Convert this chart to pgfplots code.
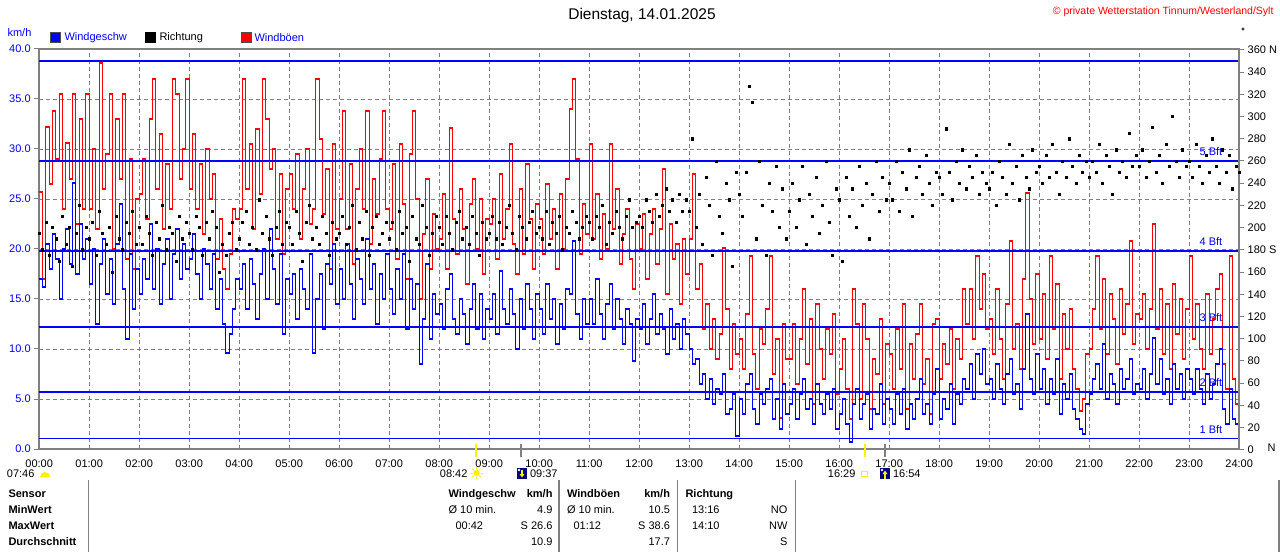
\documentclass[border=0pt]{standalone}
\usepackage{fontspec}
\setmainfont{Liberation Sans}
\usepackage{pgfplots}
\usepackage{pgfplotstable}
\pgfplotsset{compat=1.18}
\definecolor{frame}{HTML}{808080}
\definecolor{navy}{HTML}{000080}
\newcommand{\fs}{\fontsize{11}{13}\selectfont}
\newcommand{\fb}{\fontsize{11}{13}\selectfont\bfseries}

% t = minutes since 00:00, s = Windgeschw (km/h), g = Windboeen (km/h), d = Richtung (deg)
\pgfplotstableread{
t s g d
0 17.0 25.7 195
4 16.2 17.0 180
8 20.5 32.2 205
12 18.0 26.5 175
16 21.5 33.8 200
20 19.0 29.0 190
24 15.0 35.5 170
28 20.0 24.0 210
32 22.0 30.6 185
36 18.5 27.0 200
40 26.6 35.5 165
44 17.5 22.5 195
48 22.5 33.0 220
52 19.0 24.0 180
56 21.0 35.5 200
60 16.5 24.0 190
64 20.0 30.0 205
68 12.5 22.0 175
72 18.5 38.6 215
76 21.0 26.0 195
80 15.5 29.5 185
84 19.0 35.5 200
88 14.5 20.0 160
92 20.5 33.0 210
96 24.5 27.0 190
100 16.0 35.5 180
104 11.0 19.0 205
108 19.5 29.0 195
112 14.0 18.0 215
116 18.0 25.0 185
120 15.5 25.5 200
124 19.0 29.0 185
128 17.0 23.0 210
132 22.5 33.0 195
136 16.0 37.0 175
140 20.0 26.0 205
144 14.5 31.5 190
148 18.5 22.0 220
152 21.0 28.5 180
156 15.0 24.0 200
160 19.5 37.0 195
164 22.0 35.5 170
168 17.0 27.0 210
172 20.5 30.0 190
176 18.0 37.0 205
180 19.0 26.0 195
184 21.5 31.5 180
188 17.5 24.0 210
192 15.0 28.5 200
196 20.0 21.5 175
200 18.5 30.0 205
204 16.0 25.0 190
208 19.5 27.5 215
212 14.0 19.0 200
216 17.0 23.0 160
220 12.5 18.0 185
224 9.6 16.0 175
228 11.5 19.5 195
232 14.0 24.0 205
236 17.0 23.0 180
240 16.0 24.0 190
244 18.5 37.0 205
248 14.0 26.0 215
252 19.0 30.5 185
256 16.5 22.0 200
260 13.0 32.0 180
264 17.5 25.5 225
268 20.0 37.0 195
272 15.0 33.0 210
276 22.0 28.0 190
280 18.0 30.0 175
284 14.5 21.0 200
288 19.5 27.5 215
292 11.5 19.5 185
296 17.0 26.0 205
300 15.5 27.5 200
304 17.5 24.0 185
308 13.0 29.5 215
312 18.0 21.0 195
316 16.0 26.0 170
320 14.0 30.0 205
324 19.5 22.5 220
328 9.6 24.0 190
332 15.0 37.0 200
336 17.5 31.0 185
340 12.0 23.5 210
344 18.5 28.0 195
348 16.5 18.0 175
352 20.5 30.5 205
356 14.5 22.0 190
360 18.0 25.0 195
364 15.0 33.8 210
368 20.5 22.0 185
372 16.5 28.5 200
376 13.0 18.5 220
380 19.0 26.0 180
384 17.0 30.0 205
388 14.5 24.0 190
392 21.0 33.8 215
396 16.0 20.5 175
400 18.5 27.0 200
404 12.5 23.5 210
408 17.5 29.0 185
412 15.0 33.8 195
416 19.5 24.0 205
420 16.0 22.0 190
424 13.5 28.5 205
428 18.0 19.0 180
432 15.0 30.5 215
436 19.5 24.5 195
440 12.0 17.0 200
444 17.0 29.5 170
448 14.0 33.8 210
452 16.5 25.0 190
456 8.5 15.0 185
460 13.0 21.5 220
464 18.5 27.0 200
468 11.0 18.0 175
472 15.5 23.5 195
476 13.5 20.0 210
480 14.5 21.0 200
484 12.0 25.5 185
488 16.0 18.0 210
492 17.5 32.1 195
496 13.0 23.0 180
500 11.5 19.5 205
504 15.0 26.0 215
508 13.5 22.0 190
512 10.5 16.5 200
516 14.0 24.5 185
520 16.5 27.0 210
524 12.0 20.0 195
528 15.5 25.0 175
532 11.0 17.5 205
536 14.0 23.0 190
540 13.0 22.5 195
544 15.5 25.0 210
548 11.5 19.0 190
552 17.8 27.5 205
556 14.0 21.0 185
560 12.5 24.0 200
564 16.0 30.5 220
568 13.5 20.5 195
572 10.0 17.5 180
576 15.0 26.0 210
580 12.0 19.5 200
584 16.5 28.5 190
588 14.0 23.0 205
592 11.0 18.0 215
596 15.5 24.5 195
600 14.0 23.0 200
604 11.5 19.5 190
608 16.5 26.5 215
612 13.0 21.0 185
616 15.0 24.0 205
620 10.5 18.0 195
624 14.5 25.5 210
628 12.0 20.0 180
632 16.0 27.0 200
636 15.5 34.0 195
640 20.8 37.0 215
644 13.5 29.0 205
648 11.0 19.5 190
652 15.0 24.5 200
656 12.5 21.5 210
660 15.0 30.5 205
664 12.5 21.0 190
668 17.0 25.5 210
672 13.5 19.0 200
676 11.0 23.5 220
680 14.5 20.0 185
684 16.5 30.5 205
688 12.0 22.0 195
692 15.0 26.0 215
696 13.0 18.5 200
700 10.5 21.5 190
704 14.0 24.0 210
708 12.5 19.0 225
712 8.8 16.0 200
716 13.0 22.5 205
720 12.0 20.0 210
724 14.5 23.5 200
728 10.5 17.0 225
732 13.0 21.5 215
736 15.5 24.0 205
740 11.5 18.5 230
744 13.5 22.0 210
748 12.0 28.0 220
752 9.5 15.5 235
756 14.0 22.5 215
760 11.0 19.0 225
764 12.5 20.5 205
768 10.0 14.5 230
772 13.0 21.0 215
776 11.5 17.5 225
780 10.0 21.0 215
784 8.5 27.5 280
788 9.0 16.0 200
792 6.5 18.5 230
796 7.5 12.0 185
800 5.0 14.5 245
804 7.0 10.0 220
808 4.5 13.0 175
812 6.0 9.0 260
816 5.5 11.5 210
820 7.5 20.1 195
824 3.5 14.0 240
828 4.0 8.0 225
832 5.5 12.5 165
836 1.3 9.5 250
840 5.0 11.0 230
844 3.5 8.0 210
848 6.5 13.5 250
852 7.5 19.3 327
856 4.0 9.5 313
860 2.5 6.0 190
864 5.5 12.0 260
868 4.5 10.5 220
872 6.0 14.0 175
876 7.0 19.3 240
880 3.0 7.5 215
884 5.0 11.0 255
888 2.0 3.1 200
892 6.5 12.5 235
896 3.5 9.0 190
900 4.5 9.0 215
904 6.0 12.5 240
908 3.0 6.5 200
912 5.5 11.0 225
916 7.0 16.0 255
920 4.0 8.5 185
924 5.0 13.0 230
928 2.5 4.5 210
932 6.5 14.5 245
936 4.5 10.0 195
940 3.5 7.0 220
944 5.5 12.0 260
948 4.0 9.5 205
952 6.0 13.5 175
956 2.0 5.5 235
960 3.5 8.0 225
964 5.0 11.0 170
968 2.5 6.0 245
972 0.7 3.0 210
976 4.5 16.0 235
980 6.0 12.5 200
984 3.0 5.0 255
988 4.5 14.5 220
992 5.5 11.0 240
996 2.0 4.0 190
1000 4.0 9.0 230
1004 3.5 7.5 260
1008 6.5 13.0 215
1012 2.5 4.5 245
1016 5.0 10.5 225
1020 4.0 9.5 240
1024 2.5 6.0 225
1028 5.5 12.0 260
1032 3.5 8.0 215
1036 6.0 14.5 250
1040 2.0 4.0 235
1044 4.5 10.5 270
1048 3.0 7.0 210
1052 5.0 11.5 245
1056 7.0 14.5 255
1060 3.5 6.5 230
1064 4.5 9.0 265
1068 2.5 3.5 240
1072 5.5 12.5 220
1076 8.0 13.0 250
1080 3.0 7.0 245
1084 5.0 10.5 230
1088 4.0 8.5 289
1092 6.5 12.0 250
1096 2.5 6.0 225
1100 5.5 11.0 260
1104 4.5 9.0 240
1108 7.0 16.0 270
1112 6.0 12.5 235
1116 8.5 16.0 255
1120 5.0 11.0 245
1124 9.5 19.3 265
1128 7.5 14.0 230
1132 10.0 17.5 250
1136 6.5 12.0 240
1140 7.0 13.0 235
1144 5.0 9.5 250
1148 8.5 16.0 220
1152 6.0 11.0 260
1156 4.5 7.0 245
1160 7.5 14.5 230
1164 9.0 20.8 275
1168 5.5 10.0 240
1172 6.5 12.5 255
1176 4.0 8.0 225
1180 8.0 17.0 265
1184 13.5 25.6 245
1188 7.0 15.0 235
1192 5.5 10.5 270
1196 9.5 17.5 250
1200 6.0 11.0 255
1204 8.0 15.5 240
1208 4.5 9.0 265
1212 7.0 19.3 245
1216 5.5 12.0 275
1220 9.0 16.5 250
1224 3.5 7.0 230
1228 6.5 13.5 260
1232 5.0 10.0 245
1236 7.5 14.0 280
1240 4.0 8.0 255
1244 3.0 6.0 240
1248 2.0 3.8 265
1252 1.5 5.0 250
1256 4.5 9.5 260
1260 5.5 10.0 245
1264 7.0 14.0 260
1268 8.5 19.3 250
1272 6.0 12.0 275
1276 10.5 17.0 240
1280 5.0 9.5 265
1284 7.5 15.5 255
1288 6.5 13.0 230
1292 4.5 8.5 270
1296 8.0 16.0 250
1300 6.0 11.5 260
1304 7.0 14.5 245
1308 9.0 20.8 285
1312 5.5 10.5 255
1316 6.5 13.5 265
1320 6.0 13.0 255
1324 8.0 15.5 270
1328 5.0 10.0 245
1332 7.5 14.0 260
1336 11.1 22.5 290
1340 6.5 12.0 250
1344 9.0 16.0 265
1348 5.5 9.5 240
1352 7.0 14.5 275
1356 4.5 8.0 255
1360 8.5 16.5 300
1364 6.0 11.5 260
1368 7.5 15.0 245
1372 5.0 9.0 270
1376 8.0 14.0 255
1380 7.0 19.3 260
1384 5.5 11.0 245
1388 8.0 14.5 275
1392 6.0 10.0 255
1396 4.5 8.0 240
1400 7.5 15.5 265
1404 5.0 9.5 250
1408 6.5 13.0 280
1412 8.5 16.0 255
1416 10.0 17.5 240
1420 4.0 8.5 270
1424 2.5 6.0 250
1428 6.0 19.3 265
1432 3.0 7.0 235
1436 2.5 4.5 255
1440 5.0 11.0 250
}\wind

\begin{document}
\begin{tikzpicture}[x=1pt,y=1pt]
\useasboundingbox (0,0) rectangle (1280,552);

% ---------- main axis (km/h) ----------
\begin{axis}[
  at={(47,103)}, anchor=origin,
  scale only axis, width=1200pt, height=400pt,
  xmin=0, xmax=1440, ymin=0, ymax=40,
  xtick={0,60,...,1440},
  xticklabels={00:00,01:00,02:00,03:00,04:00,05:00,06:00,07:00,08:00,09:00,10:00,11:00,12:00,13:00,14:00,15:00,16:00,17:00,18:00,19:00,20:00,21:00,22:00,23:00,24:00},
  ytick={0,5,...,40},
  grid=major,
  major grid style={draw=frame, line width=0.8pt, dash pattern=on 4pt off 3pt},
  axis line style={draw=frame, line width=2.5pt},
  ytick pos=left, xtick pos=bottom,
  tick align=outside, major tick length=5pt,
  tick style={draw=frame, line width=1pt},
  xtick style={draw=none},
  yticklabel style={text=blue, font=\fs,
    /pgf/number format/fixed, /pgf/number format/fixed zerofill,
    /pgf/number format/precision=1},
  xticklabel style={font=\fs, yshift=-2pt},
  /pgf/number format/assume math mode=true,
]
% Beaufort labels (behind the data)
\node[anchor=east, text=blue, font=\fs] at (axis cs:1424,1.08) [yshift=9pt] {1 Bft};
\node[anchor=east, text=blue, font=\fs] at (axis cs:1424,5.70) [yshift=9pt] {2 Bft};
\node[anchor=east, text=blue, font=\fs] at (axis cs:1424,12.24) [yshift=9pt] {3 Bft};
\node[anchor=east, text=blue, font=\fs] at (axis cs:1424,19.8) [yshift=9pt] {4 Bft};
\node[anchor=east, text=blue, font=\fs] at (axis cs:1424,28.8) [yshift=9pt] {5 Bft};

\addplot[red, const plot, line width=1.2pt] table[x=t, y=g] {\wind};
\addplot[blue, const plot, line width=1.2pt] table[x=t, y=s] {\wind};

% Beaufort lines
\addplot[blue, line width=1.2pt, forget plot] coordinates {(0,1.08) (1440,1.08)};
\addplot[blue, line width=1.2pt, forget plot] coordinates {(0,5.70) (1440,5.70)};
\addplot[blue, line width=1.2pt, forget plot] coordinates {(0,12.2) (1440,12.2)};
\addplot[blue, line width=1.2pt, forget plot] coordinates {(0,19.8) (1440,19.8)};
\addplot[blue, line width=1.2pt, forget plot] coordinates {(0,28.8) (1440,28.8)};
\addplot[blue, line width=1.2pt, forget plot] coordinates {(0,38.8) (1440,38.8)};
\end{axis}

% ---------- direction axis (degrees) ----------
\begin{axis}[
  at={(47,92)}, anchor=origin,
  scale only axis, width=1200pt, height=400pt,
  xmin=0, xmax=1440, ymin=0, ymax=360,
  axis x line=none, axis y line*=right,
  y axis line style={draw=frame, line width=2.5pt},
  ytick={0,20,...,360},
  yticklabels={0,20,40,60,80,100,120,140,160,180 S,200,220,240,260,280,300,320,340,360 N},
  tick align=outside, major tick length=5pt,
  tick style={draw=frame, line width=1pt},
  yticklabel style={font=\fs, anchor=west},
]
\addplot[only marks, mark=square*, mark size=1.1pt, black, mark options={draw=none, fill=black}] table[x=t, y=d] {\wind};
\end{axis}

% ---------- header ----------
\node[font=\fontsize{15.5}{18}\selectfont] at (642,536.5) {Dienstag, 14.01.2025};
\node[anchor=east, text=red, font=\fontsize{10.5}{12}\selectfont] at (1277,540) {© private Wetterstation Tinnum/Westerland/Sylt};
\draw[black, line width=0.6pt] (1243,523) circle (1.3);
\node[anchor=west, text=blue, font=\fs] at (4,519) {km/h};
\filldraw[fill=blue, draw=black!70, line width=0.6pt] (50.5,509.5) rectangle (60.5,519.5);
\node[anchor=west, text=blue, font=\fs] at (61,514) {Windgeschw};
\filldraw[fill=black, draw=black, line width=0.6pt] (145.5,509.5) rectangle (155.5,519.5);
\node[anchor=west, font=\fs] at (156,514) {Richtung};
\filldraw[fill=red, draw=black!70, line width=0.6pt] (241.5,509.5) rectangle (251.5,519.5);
\node[anchor=west, text=blue, font=\fs] at (251,514) {Windböen};

% "N" at 0 degrees
\node[anchor=base west, font=\fs] at (1264,100) {N};

% ---------- sun / moon markers ----------
\node[anchor=base east, font=\fs] at (38,75) {07:46};
\fill[yellow] (40,75) arc[start angle=180, end angle=0, radius=5] -- cycle;
\node[anchor=base east, font=\fs] at (471,75) {08:42};
\fill[yellow] (476.5,79) circle (3.2);
\foreach \a in {0,45,...,315} \draw[yellow, line width=0.8pt] (476.5,79) ++(\a:4) -- ++(\a:2);
\draw[yellow, line width=2pt] (476,108) -- (476,95);
\draw[frame, line width=2pt] (520.5,108) -- (520.5,95);
\fill[navy] (516.5,73) rectangle (527,84);
\fill[white] (519,82) circle (1.4);
\draw[yellow, line width=1.2pt] (522,82) -- (522,77);
\fill[yellow] (519.5,78) -- (524.5,78) -- (522,74.5) -- cycle;
\node[anchor=base west, font=\fs] at (526.5,75) {09:37};
\node[anchor=base east, font=\fs] at (859,75) {16:29};
\draw[yellow, line width=0.8pt] (861.5,75.5) rectangle (867,81);
\draw[yellow, line width=2pt] (864.5,108) -- (864.5,95);
\draw[frame, line width=2pt] (885,108) -- (885,95);
\fill[navy] (879.5,73) rectangle (890,84);
\fill[white] (882,82) circle (1.4);
\draw[yellow, line width=1.2pt] (885,73.5) -- (885,79);
\fill[yellow] (882.5,78) -- (887.5,78) -- (885,81.5) -- cycle;
\node[anchor=base west, font=\fs] at (889.5,75) {16:54};

% ---------- table ----------
\foreach \xx in {88.5,559,677.5,795.5,1279} \draw[frame, line width=1.5pt] (\xx,72) -- (\xx,0);
\node[anchor=base west, font=\fb] at (5,55) {Sensor};
\node[anchor=base west, font=\fb] at (5,38.5) {MinWert};
\node[anchor=base west, font=\fb] at (5,22.5) {MaxWert};
\node[anchor=base west, font=\fb] at (5,6.5) {Durchschnitt};

\node[anchor=base west, font=\fb] at (445,55) {Windgeschw};
\node[anchor=base east, font=\fb] at (556,55) {km/h};
\node[anchor=base west, font=\fs] at (445,38.5) {Ø 10 min.};
\node[anchor=base east, font=\fs] at (556,38.5) {4.9};
\node[anchor=base west, font=\fs] at (452,22.5) {00:42};
\node[anchor=base east, font=\fs] at (556,22.5) {S 26.6};
\node[anchor=base east, font=\fs] at (556,6.5) {10.9};

\node[anchor=base west, font=\fb] at (563.5,55) {Windböen};
\node[anchor=base east, font=\fb] at (673.5,55) {km/h};
\node[anchor=base west, font=\fs] at (563.5,38.5) {Ø 10 min.};
\node[anchor=base east, font=\fs] at (673.5,38.5) {10.5};
\node[anchor=base west, font=\fs] at (570,22.5) {01:12};
\node[anchor=base east, font=\fs] at (673.5,22.5) {S 38.6};
\node[anchor=base east, font=\fs] at (673.5,6.5) {17.7};

\node[anchor=base west, font=\fb] at (682,55) {Richtung};
\node[anchor=base west, font=\fs] at (688.5,38.5) {13:16};
\node[anchor=base east, font=\fs] at (791,38.5) {NO};
\node[anchor=base west, font=\fs] at (688.5,22.5) {14:10};
\node[anchor=base east, font=\fs] at (791,22.5) {NW};
\node[anchor=base east, font=\fs] at (791,6.5) {S};
\end{tikzpicture}
\end{document}
